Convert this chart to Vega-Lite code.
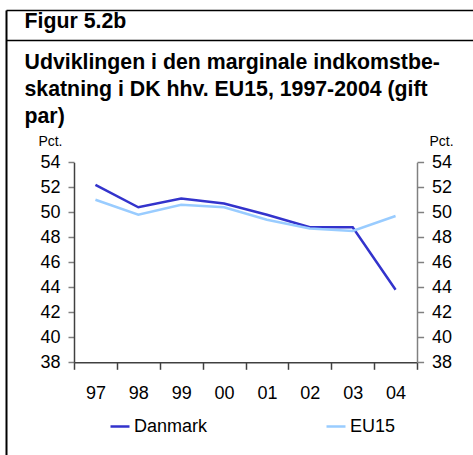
{
  "$schema": "https://vega.github.io/schema/vega-lite/v6.json",
  "padding": {"left": 6, "top": 10, "right": 0, "bottom": 0},
  "background": "white",
  "width": 466,
  "height": 444,
  "config": {
    "font": "Liberation Sans",
    "view": {"stroke": null},
    "axis": {"labelColor": "black", "titleColor": "black", "labelFont": "Liberation Sans", "titleFont": "Liberation Sans", "grid": false}
  },
  "data": {"values": [
    {"year": "97", "series": "Danmark", "value": 52.2},
    {"year": "98", "series": "Danmark", "value": 50.4},
    {"year": "99", "series": "Danmark", "value": 51.1},
    {"year": "00", "series": "Danmark", "value": 50.7},
    {"year": "01", "series": "Danmark", "value": 49.8},
    {"year": "02", "series": "Danmark", "value": 48.8},
    {"year": "03", "series": "Danmark", "value": 48.8},
    {"year": "04", "series": "Danmark", "value": 43.8},
    {"year": "97", "series": "EU15", "value": 51.0},
    {"year": "98", "series": "EU15", "value": 49.8},
    {"year": "99", "series": "EU15", "value": 50.6},
    {"year": "00", "series": "EU15", "value": 50.4},
    {"year": "01", "series": "EU15", "value": 49.4},
    {"year": "02", "series": "EU15", "value": 48.7},
    {"year": "03", "series": "EU15", "value": 48.5},
    {"year": "04", "series": "EU15", "value": 49.7}
  ]},
  "layer": [
    {
      "mark": {"type": "line", "strokeWidth": 2.5},
      "encoding": {
        "x": {
          "field": "year", "type": "ordinal", "sort": ["97", "98", "99", "00", "01", "02", "03", "04"],
          "scale": {"type": "band", "paddingInner": 0, "paddingOuter": 0, "range": [68, 411]},
          "axis": {"orient": "bottom", "offset": -91.7, "tickBand": "extent", "labelAngle": 0, "labelFontSize": 18, "labelPadding": 15, "tickSize": 7, "domainColor": "#404040", "tickColor": "#404040", "domainWidth": 1.5, "tickWidth": 1.5,
            "title": ["Udviklingen i den marginale indkomstbe-", "skatning i DK hhv. EU15, 1997-2004 (gift", "par)"],
            "titleAngle": 0, "titleAlign": "left", "titleBaseline": "alphabetic", "titleX": 18, "titleY": -294, "titleLineHeight": 27, "titleFontSize": 21.3, "titleFontWeight": "bold"}
        },
        "y": {
          "field": "value", "type": "quantitative",
          "scale": {"domain": [38, 54], "range": [352.3, 152.3], "nice": false, "zero": false},
          "axis": {"orient": "left", "offset": -68, "values": [38, 40, 42, 44, 46, 48, 50, 52, 54], "labelFontSize": 18, "labelPadding": 8, "tickSize": 6, "domainColor": "#404040", "tickColor": "#808080", "domainWidth": 1.5, "tickWidth": 1.5,
            "title": "Pct.", "titleAngle": 0, "titleAlign": "right", "titleBaseline": "alphabetic", "titleX": -12, "titleY": 135, "titleFontSize": 14, "titleFontWeight": "normal"}
        },
        "color": {
          "field": "series", "type": "nominal",
          "scale": {"domain": ["Danmark", "EU15"], "range": ["#3333CC", "#99CCFF"]},
          "legend": {"title": null, "orient": "none", "legendX": 103, "legendY": 405.5, "direction": "horizontal", "columns": 2, "columnPadding": 113, "symbolType": "stroke", "symbolSize": 361, "symbolStrokeWidth": 2.5, "labelFontSize": 18, "labelOffset": 3, "labelColor": "black", "labelFont": "Liberation Sans"}
        }
      }
    },
    {
      "mark": {"type": "line", "strokeWidth": 2.5, "opacity": 0},
      "encoding": {
        "x": {
          "field": "year", "type": "ordinal", "sort": ["97", "98", "99", "00", "01", "02", "03", "04"],
          "scale": {"type": "band", "paddingInner": 0, "paddingOuter": 0, "range": [0, 466.5]},
          "axis": {"orient": "top", "offset": -30, "ticks": false, "labels": false, "domainColor": "black", "domainWidth": 1.5,
            "title": "Figur 5.2b", "titleAngle": 0, "titleAlign": "left", "titleBaseline": "alphabetic", "titleX": 18, "titleY": -12.5, "titleFontSize": 21.3, "titleFontWeight": "bold"}
        },
        "y": {
          "field": "value", "type": "quantitative",
          "scale": {"domain": [38, 54], "range": [352.3, 152.3], "nice": false, "zero": false},
          "axis": {"orient": "right", "offset": -55, "values": [38, 40, 42, 44, 46, 48, 50, 52, 54], "labelFontSize": 18, "labelPadding": 8, "tickSize": 6.6, "domainColor": "#808080", "tickColor": "#808080", "domainWidth": 1.5, "tickWidth": 1.5,
            "title": "Pct.", "titleAngle": 0, "titleAlign": "left", "titleBaseline": "alphabetic", "titleX": 12, "titleY": 135, "titleFontSize": 14, "titleFontWeight": "normal"}
        },
        "detail": {"field": "series", "type": "nominal"}
      }
    },
    {
      "mark": {"type": "line", "strokeWidth": 1, "opacity": 0},
      "encoding": {
        "x": {
          "field": "year", "type": "ordinal", "sort": ["97", "98", "99", "00", "01", "02", "03", "04"],
          "scale": {"type": "band", "paddingInner": 0, "paddingOuter": 0, "range": [0, 466.5]},
          "axis": {"orient": "top", "offset": 0, "ticks": false, "labels": false, "title": null, "domainColor": "black", "domainWidth": 1.5}
        },
        "y": {
          "field": "value", "type": "quantitative",
          "scale": {"domain": [38, 54], "range": [444.5, 0], "nice": false, "zero": false},
          "axis": {"orient": "left", "offset": 0, "ticks": false, "labels": false, "title": null, "domainColor": "black", "domainWidth": 2}
        },
        "detail": {"field": "series", "type": "nominal"}
      }
    }
  ],
  "resolve": {"scale": {"x": "independent", "y": "independent"}, "axis": {"x": "independent", "y": "independent"}}
}
